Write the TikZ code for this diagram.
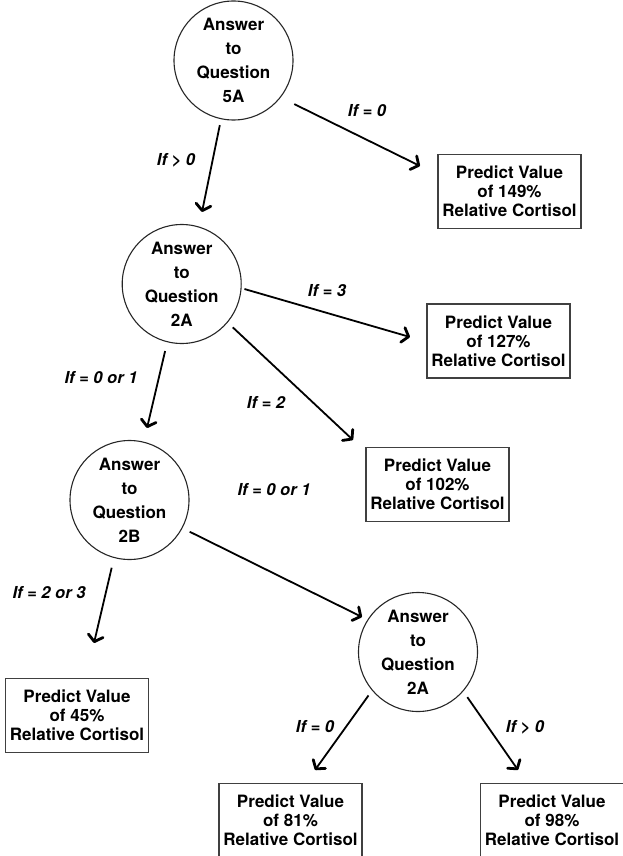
\documentclass[tikz,border=0pt]{standalone}
\usepackage{fontspec}
\setmainfont{TeX Gyre Heros}
\usetikzlibrary{arrows.meta}
\begin{document}
\begin{tikzpicture}[x=1pt,y=-1pt,
  question/.style={circle,draw=black!85,line width=1.1pt,minimum size=119pt,inner sep=0pt,align=center,
    font=\fontsize{17}{24}\selectfont\bfseries},
  result/.style={rectangle,draw=black!75,line width=1.3pt,minimum width=143pt,minimum height=74pt,inner sep=2pt,align=center,
    font=\fontsize{17}{19.2}\selectfont\bfseries},
  cond/.style={font=\fontsize{16.5}{19}\selectfont\bfseries\itshape,inner sep=0pt},
  arr/.style={line width=1.8pt,-{Straight Barb[length=6pt,width=15pt,line width=2.8pt,round]}}]
\useasboundingbox (0,0) rectangle (623,856);
% question circles
\node[question] (c1) at (233.5,60.5) {Answer\\to\\Question\\5A};
\node[question] (c2) at (181.7,284) {Answer\\to\\Question\\2A};
\node[question] (c3) at (129.5,500) {Answer\\to\\Question\\2B};
\node[question] (c4) at (418,652) {Answer\\to\\Question\\2A};
% result boxes
\node[result] (b1) at (509.5,191.5) {Predict Value\\of 149\%\\Relative Cortisol};
\node[result] (b2) at (498.5,341) {Predict Value\\of 127\%\\Relative Cortisol};
\node[result] (b3) at (437.5,484.5) {Predict Value\\of 102\%\\Relative Cortisol};
\node[result] (b4) at (77,715.5) {Predict Value\\of 45\%\\Relative Cortisol};
\node[result] (b5) at (290.5,820.5) {Predict Value\\of 81\%\\Relative Cortisol};
\node[result] (b6) at (552,820.5) {Predict Value\\of 98\%\\Relative Cortisol};
% arrow tips
\coordinate (t1) at (202,212);
\coordinate (t2) at (420,166);
\coordinate (t3) at (410,337);
\coordinate (t4) at (353,440);
\coordinate (t5) at (147,428);
\coordinate (t6) at (94,643);
\coordinate (t7) at (362,617);
\coordinate (t8) at (315,770);
\coordinate (t9) at (518,770);
% connectors
\draw[arr,shorten <=6pt] (c1.258) -- (t1);
\draw[arr,shorten <=15pt] (c1.322.6) -- (t2);
\draw[arr,shorten <=3pt] (c2.356.3) -- (t3);
\draw[arr,shorten <=7pt] (c2.320.7) -- (t4);
\draw[arr,shorten <=9pt] (c2.256.7) -- (t5);
\draw[arr,shorten <=10pt] (c3.255.4) -- (t6);
\draw[arr,shorten <=8pt] (c3.332.1) -- (t7);
\draw[arr,shorten <=6pt] (c4.220.7) -- (t8);
\draw[arr,shorten <=7pt] (c4.319.9) -- (t9);
% condition labels
\node[cond] (l1) at (367,111) {If = 0};
\node[cond] (l2) at (176,160) {If > 0};
\node[cond] (l3) at (327,291) {If = 3};
\node[cond] (l4) at (101,378) {If = 0 or 1};
\node[cond] (l5) at (266,402) {If = 2};
\node[cond] (l6) at (274,490) {If = 0 or 1};
\node[cond] (l7) at (49,593) {If = 2 or 3};
\node[cond] (l8) at (315,727) {If = 0};
\node[cond] (l9) at (525,727) {If > 0};
\end{tikzpicture}
\end{document}
